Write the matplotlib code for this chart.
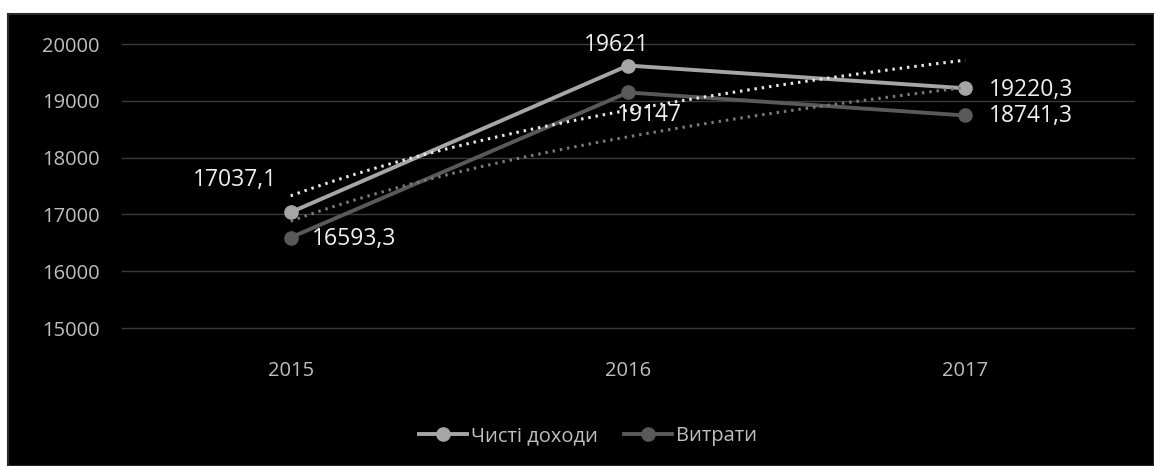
import numpy as np
import matplotlib
matplotlib.use("Agg")
import matplotlib.pyplot as plt
from matplotlib.patches import Rectangle
from matplotlib.lines import Line2D

plt.rcParams['font.family'] = ['Open Sans', 'DejaVu Sans']

years = ["2015", "2016", "2017"]
income = [17037.1, 19621, 19220.3]
expenses = [16593.3, 19147, 18741.3]
income_labels = ["17037,1", "19621", "19220,3"]
expense_labels = ["16593,3", "19147", "18741,3"]
series_names = ["Чисті доходи", "Витрати"]
y_ticks = [15000, 16000, 17000, 18000, 19000, 20000]

W, H = 1154, 466
fig = plt.figure(figsize=(W / 100, H / 100), dpi=100, facecolor="white")

# black chart area with a thin white margin on the left and top
fig.patches.append(Rectangle((8 / W, 0), 1 - 8 / W, 1 - 14 / H, transform=fig.transFigure,
                             facecolor="black", edgecolor="#2a2a2a", linewidth=1.5, zorder=-10))

ax = fig.add_axes([122 / W, 138 / H, (1134 - 122) / W, (422 - 138) / H])
ax.set_facecolor("black")
ax.patch.set_alpha(0)
for s in ax.spines.values():
    s.set_visible(False)

x = np.arange(len(years))
c_inc, c_exp = "#a6a6a6", "#595959"

ax.plot(x, income, color=c_inc, lw=2.8, marker="o", ms=9.5, zorder=3, solid_capstyle="round")
ax.plot(x, expenses, color=c_exp, lw=2.8, marker="o", ms=9.5, zorder=3, solid_capstyle="round")

# logarithmic trend lines
xs = np.linspace(0, 2, 200)
for vals, col in ((income, "#e8e8e8"), (expenses, "#7a7a7a")):
    b, a = np.polyfit(np.log(x + 1), vals, 1)
    ax.plot(xs, a + b * np.log(xs + 1), color=col, lw=2.2, linestyle=(0, (0.8, 1.6)),
            dash_capstyle="butt", zorder=4)

ax.set_xlim(-0.5, 2.5)
ax.set_ylim(15000, 20000)
ax.set_yticks(y_ticks)
ax.set_xticks(x)
ax.set_xticklabels(years)
ax.yaxis.grid(True, color="#3a3a3a", lw=1)
for gl in ax.yaxis.get_gridlines():
    gl.set_clip_on(False)
ax.set_axisbelow(True)
ax.tick_params(axis="y", length=0, pad=16, labelsize=14.5, labelcolor="#bfbfbf")
ax.tick_params(axis="x", length=0, pad=24, labelsize=14.5, labelcolor="#bfbfbf")

px = 0.72  # points per pixel at 100 dpi
lab_kw = dict(textcoords="offset points", fontsize=16.5, color="#f0f0f0", zorder=5)
inc_off = [((-56, 32), "center"), ((-11, 21), "center"), ((24, -2), "left")]
exp_off = [((21, -1), "left"), ((21, -23), "center"), ((24, -1), "left")]
for i in range(3):
    (dx, dy), ha = inc_off[i]
    ax.annotate(income_labels[i], (x[i], income[i]), xytext=(dx * px, dy * px),
                ha=ha, va="center", **lab_kw)
    (dx, dy), ha = exp_off[i]
    ax.annotate(expense_labels[i], (x[i], expenses[i]), xytext=(dx * px, dy * px),
                ha=ha, va="center", **lab_kw)

handles = [Line2D([], [], color=c_inc, lw=2.8, marker="o", ms=9.5),
           Line2D([], [], color=c_exp, lw=2.8, marker="o", ms=9.5)]
leg = fig.legend(handles, series_names, loc="center", bbox_to_anchor=(588 / W, 1 - 436 / H),
                 ncol=2, frameon=False, fontsize=14.5, labelcolor="#bfbfbf",
                 handlelength=2.4, handletextpad=0.2, columnspacing=1.3)

fig.savefig("out.png", dpi=100, facecolor="white")
